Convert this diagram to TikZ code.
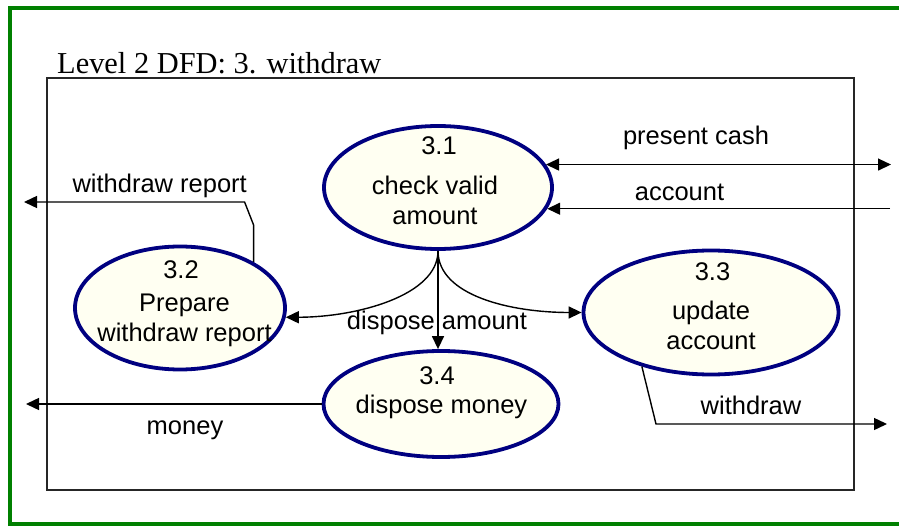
\documentclass[tikz,border=0pt]{standalone}
\usepackage{fontspec}
\setmainfont{Liberation Sans}
\newfontfamily\titlefont{Liberation Serif}
\usetikzlibrary{arrows.meta, shapes.geometric, positioning}
\definecolor{procblue}{HTML}{000080}
\definecolor{procfill}{HTML}{FFFFF2}
\definecolor{framegreen}{HTML}{008000}

\begin{document}
\begin{tikzpicture}[x=1pt, y=-1pt, >={Triangle[length=13pt,width=12pt]},
  proc/.style={ellipse, draw=procblue, line width=3.8pt, fill=procfill, inner sep=0pt},
  lbl/.style={font=\fontsize{25.5}{30}\selectfont, inner sep=0pt, align=center},
  flow/.style={line width=1.4pt}]
  \useasboundingbox (0,0) rectangle (899,526);
  % Frame and context box
  \draw[framegreen, line width=4pt] (899,7.8) -- (9.7,7.8) -- (9.7,523.5) -- (899,523.5);
  \draw[black!85, line width=2pt] (47.3,78) rectangle (853.7,490);
  \node[font=\titlefont\fontsize{30.4}{36}\selectfont, anchor=base west, inner sep=0pt]
    (title) at (57,74) {Level 2 DFD: 3. withdraw};
  % Processes
  \node[proc, minimum width=228, minimum height=123] (p31) at (438,187.5) {};
  \node[proc, minimum width=210, minimum height=123] (p32) at (180,308) {};
  \node[proc, minimum width=255, minimum height=124] (p33) at (711,312.5) {};
  \node[proc, minimum width=235, minimum height=106] (p34) at (441,404) {};
  \node[lbl] (n31) at (439,146) {3.1};
  \node[lbl] (t31) at (435,200) {check valid\\amount};
  \node[lbl] (n32) at (181,270) {3.2};
  \node[lbl] (t32) at (184.5,320) {Prepare\\withdraw report};
  \node[lbl] (n33) at (712.5,272) {3.3};
  \node[lbl] (t33) at (711,325) {update\\account};
  \node[lbl] (n34) at (437,376) {3.4};
  \node[lbl] (t34) at (441.5,407) {dispose money};
  % Outside ends
  \coordinate (cash) at (891,0);
  \coordinate (acct) at (890,0);
  \coordinate (rep) at (24,202);
  \coordinate (cashout) at (26,0);
  \coordinate (wdbend) at (656,424);
  \coordinate (wdout) at (887,424);
  % Flows
  \draw[flow, <->] (p31.12) -- (p31.12 -| cash);
  \node[lbl] (l1) at (696,138) {present cash};
  \draw[flow, ->] (p31.-11 -| acct) -- (p31.-11);
  \node[lbl] (l2) at (679.5,192.5) {account};
  \draw[flow, ->] (p32.32) -- (p32.32 |- 0,225) -- ++(-9,-23) -- (rep);
  \node[lbl] (l3) at (159.7,186) {withdraw report};
  \draw[flow, ->] (p34.west) -- (p34.west -| cashout);
  \node[lbl] (l4) at (185,430) {money};
  \draw[flow, ->] (p33.218) -- (wdbend) -- (wdout);
  \node[lbl] (l5) at (751,405) {withdraw};
  \draw[flow, ->] (p31.south) -- (p31.south |- p34.north);
  \draw[flow, ->] (p31.south) .. controls +(0,45) and +(70,0) .. (p32.-5);
  \draw[flow, ->] (p31.south) .. controls +(0,45) and +(-70,0) .. (p33.west);
  \node[lbl] (l6) at (437,322.7) {dispose amount};
\end{tikzpicture}
\end{document}
